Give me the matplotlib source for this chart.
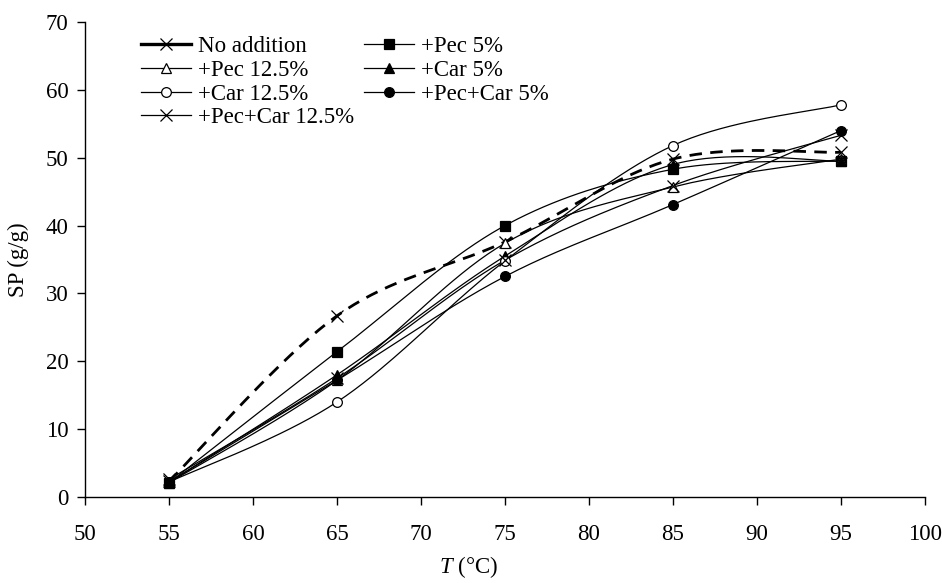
import numpy as np
import matplotlib
matplotlib.use("Agg")
import matplotlib.pyplot as plt
from matplotlib.lines import Line2D

plt.rcParams['font.family'] = ['Liberation Serif', 'DejaVu Serif']
plt.rcParams['mathtext.fontset'] = 'custom'
plt.rcParams['mathtext.it'] = 'Liberation Serif:italic'
plt.rcParams['mathtext.rm'] = 'Liberation Serif'

T = [55, 65, 75, 85, 95]
no_addition = [2.3, 26.7, 37.6, 49.8, 50.8]
pec5 = [2.1, 21.4, 40.0, 48.3, 49.5]
pec12 = [2.1, 17.2, 37.4, 45.7, 49.8]
car5 = [2.2, 18.0, 35.5, 49.0, 49.5]
car12 = [2.2, 14.0, 34.8, 51.8, 57.8]
peccar5 = [2.2, 17.2, 32.5, 43.1, 54.0]
peccar12 = [2.6, 17.5, 34.9, 45.9, 53.3]

labels = ["No addition", "+Pec 5%", "+Pec 12.5%", "+Car 5%",
          "+Car 12.5%", "+Pec+Car 5%", "+Pec+Car 12.5%"]


def smooth(x, y, n=40):
    x = np.asarray(x, float)
    y = np.asarray(y, float)
    px = np.concatenate([[x[0]], x, [x[-1]]])
    py = np.concatenate([[y[0]], y, [y[-1]]])
    xs, ys = [], []
    for i in range(1, len(px) - 2):
        p0, p1, p2, p3 = (np.array([px[j], py[j]]) for j in (i - 1, i, i + 1, i + 2))
        c1 = p1 + (p2 - p0) / 6.0
        c2 = p2 - (p3 - p1) / 6.0
        t = np.linspace(0, 1, n)[:, None]
        b = ((1 - t) ** 3) * p1 + 3 * ((1 - t) ** 2) * t * c1 + 3 * (1 - t) * t ** 2 * c2 + t ** 3 * p2
        xs.append(b[:, 0]); ys.append(b[:, 1])
    return np.concatenate(xs), np.concatenate(ys)


fig = plt.figure(figsize=(9.42, 5.83), dpi=100)
ax = fig.add_axes([85 / 942, 86 / 583, 840 / 942, 475 / 583])

series = [
    (no_addition, 'x', 'k', 2.0, (0, (4.5, 3))),
    (pec5, 's', 'k', 0.9, '-'),
    (pec12, '^', 'w', 0.9, '-'),
    (car5, '^', 'k', 0.9, '-'),
    (car12, 'o', 'w', 0.9, '-'),
    (peccar5, 'o', 'k', 0.9, '-'),
    (peccar12, 'x', 'k', 0.9, '-'),
]

handles = []
for (vals, mk, fc, lw, ls), lab in zip(series, labels):
    sx, sy = smooth(T, vals)
    ax.plot(sx, sy, color='k', lw=lw, ls=ls, zorder=2)
    ms = 8 if mk == 'x' else 7
    ax.plot(T, vals, ls='none', marker=mk, ms=ms, mfc=fc, mec='k', mew=0.9, zorder=3)
    handles.append(Line2D([], [], color='k', lw=lw if lab != "No addition" else 2.4,
                          ls='-', marker=mk, ms=ms, mfc=fc, mec='k', mew=0.9))

order = [0, 2, 4, 6, 1, 3, 5]
ax.legend([handles[i] for i in order], [labels[i] for i in order], ncol=2,
          loc='upper left', bbox_to_anchor=(56 / 840, 1.0 - 14 / 475), frameon=False,
          fontsize=16.5, handlelength=2.2, handletextpad=0.3, columnspacing=0.4,
          labelspacing=0.12, borderaxespad=0.0, borderpad=0.0)

ax.set_xlim(50, 100)
ax.set_ylim(0, 70)
ax.set_xticks(np.arange(50, 101, 5))
ax.set_yticks(np.arange(0, 71, 10))
for s in ('top', 'right'):
    ax.spines[s].set_visible(False)
for s in ('left', 'bottom'):
    ax.spines[s].set_linewidth(1.0)
ax.tick_params(direction='out', length=6, width=1.0, labelsize=16.5)
ax.tick_params(axis='x', pad=13.5)
ax.tick_params(axis='y', pad=6)
ax.set_ylabel('SP (g/g)', fontsize=16.5)
ax.yaxis.set_label_coords((29 - 85) / 840, 0.5)
ax.set_xlabel(r'$T$ (°C)', fontsize=16.5)
ax.xaxis.set_label_coords((469 - 85) / 840, -57 / 475)

fig.savefig('out.png', dpi=100)
